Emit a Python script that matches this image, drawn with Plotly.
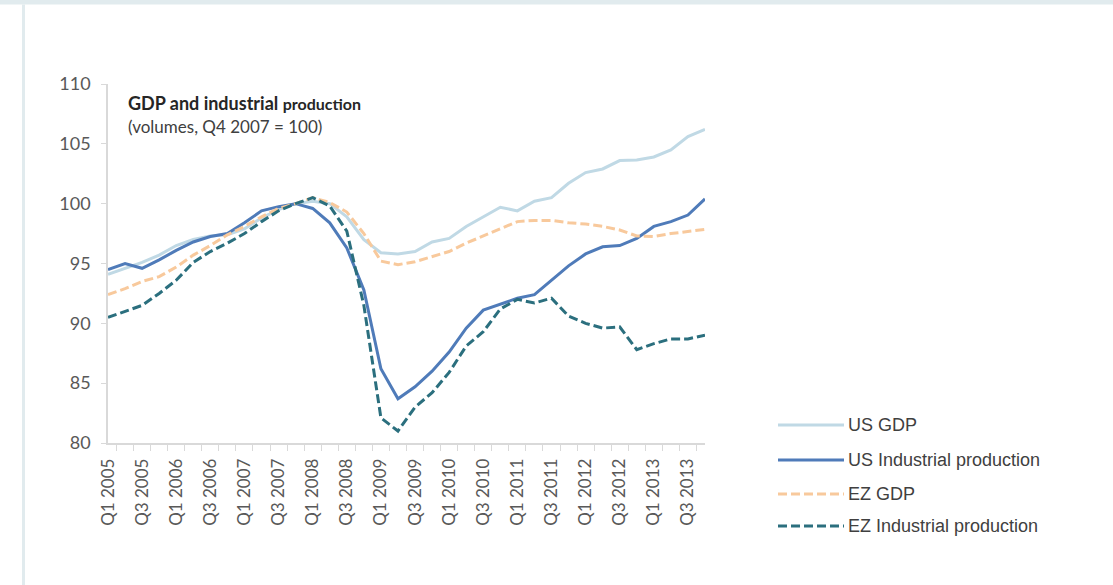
import plotly.graph_objects as go

W, H = 1113, 585

quarters = [
    "Q1 2005", "Q2 2005", "Q3 2005", "Q4 2005",
    "Q1 2006", "Q2 2006", "Q3 2006", "Q4 2006",
    "Q1 2007", "Q2 2007", "Q3 2007", "Q4 2007",
    "Q1 2008", "Q2 2008", "Q3 2008", "Q4 2008",
    "Q1 2009", "Q2 2009", "Q3 2009", "Q4 2009",
    "Q1 2010", "Q2 2010", "Q3 2010", "Q4 2010",
    "Q1 2011", "Q2 2011", "Q3 2011", "Q4 2011",
    "Q1 2012", "Q2 2012", "Q3 2012", "Q4 2012",
    "Q1 2013", "Q2 2013", "Q3 2013", "Q4 2013",
]

us_gdp = [94.1, 94.6, 95.1, 95.7, 96.5, 97.0, 97.3, 97.4, 97.9, 98.8, 99.5, 100.0,
          100.2, 100.0, 98.9, 97.0, 95.9, 95.8, 96.0, 96.8, 97.1, 98.1, 98.9, 99.7,
          99.4, 100.2, 100.5, 101.7, 102.6, 102.9, 103.6, 103.65, 103.9, 104.5, 105.6, 106.2]

us_ip = [94.5, 95.0, 94.6, 95.3, 96.1, 96.8, 97.25, 97.5, 98.4, 99.4, 99.75, 100.0,
         99.6, 98.4, 96.3, 92.8, 86.2, 83.7, 84.7, 86.0, 87.6, 89.6, 91.1, 91.6,
         92.1, 92.4, 93.6, 94.8, 95.8, 96.4, 96.5, 97.1, 98.1, 98.5, 99.05, 100.4]

ez_gdp = [92.4, 92.9, 93.5, 93.9, 94.7, 95.7, 96.5, 97.4, 98.1, 98.9, 99.6, 100.0,
          100.5, 100.1, 99.3, 97.5, 95.2, 94.9, 95.15, 95.6, 96.0, 96.7, 97.3, 97.9,
          98.5, 98.6, 98.6, 98.4, 98.3, 98.1, 97.8, 97.3, 97.25, 97.5, 97.65, 97.85]

ez_ip = [90.5, 91.0, 91.5, 92.5, 93.6, 95.1, 96.0, 96.7, 97.5, 98.5, 99.4, 100.0,
         100.5, 99.8, 97.7, 91.5, 82.1, 81.0, 83.0, 84.2, 85.9, 88.1, 89.3, 91.2,
         92.0, 91.7, 92.1, 90.6, 90.0, 89.6, 89.7, 87.8, 88.3, 88.7, 88.7, 89.0]

series_names = ["US GDP", "US Industrial production", "EZ GDP", "EZ Industrial production"]
series_values = [us_gdp, us_ip, ez_gdp, ez_ip]
series_colors = ["#c0d9e5", "#4f7bb9", "#f8c99c", "#2b6f7e"]
series_dash = ["solid", "solid", "9px,4px", "9px,4px"]

y_ticks = [80, 85, 90, 95, 100, 105, 110]
x_tick_labels = [q if q.startswith(("Q1", "Q3")) else "" for q in quarters]

title_main = "GDP and industrial"
title_small = "production"
subtitle = "(volumes, Q4 2007 = 100)"

def px(x):
    return x / W

def py(y):
    return 1 - y / H

FONT = "Lato, 'Open Sans', sans-serif"

fig = go.Figure()
for name, vals, col, dash in zip(series_names, series_values, series_colors, series_dash):
    fig.add_trace(go.Scatter(
        x=quarters, y=vals, name=name, mode="lines",
        line=dict(color=col, width=3, dash=dash),
        showlegend=False,
    ))

fig.update_layout(
    width=W, height=H,
    margin=dict(l=0, r=0, t=0, b=0),
    paper_bgcolor="white", plot_bgcolor="white",
    xaxis=dict(
        domain=[px(108), px(705)],
        type="category",
        tickmode="array", tickvals=quarters, ticktext=x_tick_labels,
        tickson="boundaries", ticks="outside", ticklen=6, tickcolor="#d9d9d9",
        tickangle=-90, tickfont=dict(family=FONT, size=17, color="#595959"),
        showline=True, linecolor="#d9d9d9", linewidth=1.5,
        showgrid=False, zeroline=False, automargin=False,
        ticklabelstandoff=7,
    ),
    yaxis=dict(
        domain=[py(443), py(84)],
        range=[80, 110],
        tickvals=y_ticks,
        ticks="outside", ticklen=5, tickcolor="#d9d9d9",
        tickfont=dict(family=FONT, size=18, color="#595959"),
        showline=True, linecolor="#d9d9d9", linewidth=1.5,
        showgrid=False, zeroline=False, automargin=False,
        ticklabelstandoff=7,
    ),
)

shapes = [
    dict(type="rect", xref="paper", yref="paper", x0=0, x1=1, y0=py(4.5), y1=1,
         fillcolor="#e1ebee", line=dict(width=0), layer="below"),
    dict(type="rect", xref="paper", yref="paper", x0=px(22), x1=px(25), y0=0, y1=py(4.5),
         fillcolor="#e1ebee", line=dict(width=0), layer="below"),
]

annotations = [
    dict(xref="paper", yref="paper", x=px(126), y=py(103), xanchor="left", yanchor="middle",
         text=f"<b>{title_main} <span style='font-size:16px'>{title_small}</span></b>",
         showarrow=False, font=dict(family=FONT, size=18, color="#262626")),
    dict(xref="paper", yref="paper", x=px(126), y=py(126), xanchor="left", yanchor="middle",
         text=subtitle, showarrow=False,
         font=dict(family=FONT, size=17, color="#404040")),
]

legend_y = [425, 460, 494, 526]
for name, col, dash, ly in zip(series_names, series_colors, series_dash, legend_y):
    shapes.append(dict(type="line", xref="paper", yref="paper",
                       x0=px(778), x1=px(844), y0=py(ly), y1=py(ly),
                       line=dict(color=col, width=3, dash=dash)))
    annotations.append(dict(xref="paper", yref="paper", x=px(846), y=py(ly),
                            xanchor="left", yanchor="middle", text=name, showarrow=False,
                            font=dict(family="'Liberation Sans', Arial, sans-serif", size=18,
                                      color="#404040")))

fig.update_layout(shapes=shapes, annotations=annotations)

fig.write_html("out.html", config={"displayModeBar": False},
               post_script="document.body.style.margin='0';")
